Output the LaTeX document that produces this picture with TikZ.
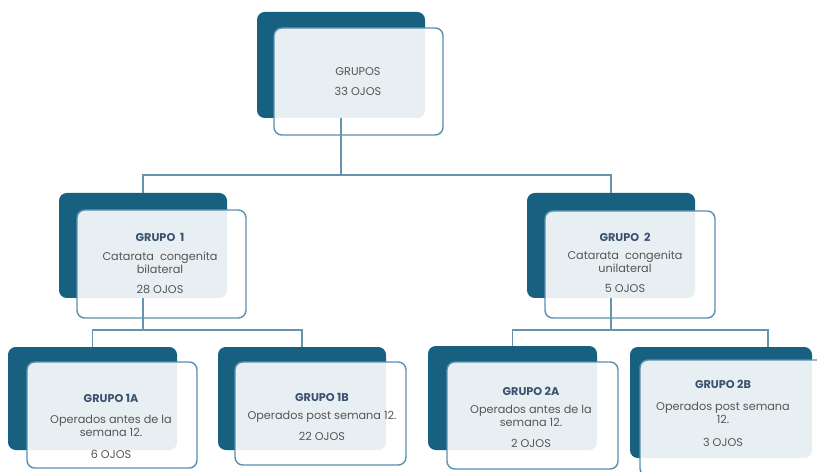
\documentclass[tikz,border=0pt]{standalone}
\usepackage{fontspec}
\setmainfont{Poppins}
\usetikzlibrary{fit,positioning}
\definecolor{azulosc}{HTML}{17607F}
\definecolor{azulbor}{HTML}{5A8FAE}
\definecolor{azullin}{HTML}{6793AD}
\definecolor{textogris}{HTML}{555555}
\definecolor{titazul}{HTML}{3A5270}

\begin{document}
\begin{tikzpicture}[x=0.025cm,y=-0.025cm,
  fondo/.style={fill=azulosc, rounded corners=5.5pt, inner sep=0pt},
  frente/.style={draw=azulbor, line width=1pt, fill=white, fill opacity=0.9, rounded corners=5.5pt, inner sep=0pt},
  titulo/.style={font=\fontsize{8}{9.3}\selectfont\bfseries, text=titazul, inner sep=0pt},
  texto/.style={font=\fontsize{8}{9.3}\selectfont, text=textogris, align=center, inner sep=0pt},
  linea/.style={draw=azullin, line width=0.8pt}]

            % Fondo y margenes
            \fill[white] (0,0) rectangle (817,472);
            \useasboundingbox (0,0) rectangle (817,472);

            % Caja GRUPOS
            \node[fondo, fit={(257,12) (425,118)}] (b0) {};
            \node[frente, fit={(274,28) (443,135)}] (g0) {};
            \node[texto] (t0) at (358,72) {GRUPOS};
            \node[texto] (n0) at (358,91) {33 OJOS};

            % Caja GRUPO 1
            \node[fondo, fit={(59,193) (227,298)}] (b1) {};
            \node[frente, fit={(77,210) (246,318)}] (g1) {};
            \node[titulo] (t1) at (160,237) {GRUPO\ \ 1};
            \node[texto] (d1) at (160,263) {Catarata\ \ congenita\\bilateral};
            \node[texto] (n1) at (160,289) {28 OJOS};

            % Caja GRUPO 2
            \node[fondo, fit={(527,193) (695,298)}] (b2) {};
            \node[frente, fit={(545,211) (715,318)}] (g2) {};
            \node[titulo] (t2) at (625,237) {GRUPO\ \ 2};
            \node[texto] (d2) at (625,262) {Catarata\ \ congenita\\unilateral};
            \node[texto] (n2) at (625,288) {5 OJOS};

            % Caja GRUPO 1A
            \node[fondo, fit={(8,347) (177,450)}] (b1a) {};
            \node[frente, fit={(27,362) (197,468)}] (g1a) {};
            \node[titulo] (t1a) at (111,398) {GRUPO 1A};
            \node[texto] (d1a) at (111,426) {Operados antes de la\\semana 12.};
            \node[texto] (n1a) at (111,454) {6 OJOS};

            % Caja GRUPO 1B
            \node[fondo, fit={(218,347) (386,450)}] (b1b) {};
            \node[frente, fit={(235,362) (406,465)}] (g1b) {};
            \node[titulo] (t1b) at (322,397) {GRUPO 1B};
            \node[texto] (d1b) at (322,417) {Operados post semana 12.};
            \node[texto] (n1b) at (322,436) {22 OJOS};

            % Caja GRUPO 2A
            \node[fondo, fit={(428,346) (597,450)}] (b2a) {};
            \node[frente, fit={(447,362) (618,469)}] (g2a) {};
            \node[titulo] (t2a) at (531,391) {GRUPO 2A};
            \node[texto] (d2a) at (531,416) {Operados antes de la\\semana 12.};
            \node[texto] (n2a) at (531,443) {2 OJOS};

            % Caja GRUPO 2B
            \node[fondo, fit={(630,347) (812,458)}] (b2b) {};
            \node[frente, fit={(640,360) (830,476)}] (g2b) {};
            \node[titulo] (t2b) at (723,384) {GRUPO 2B};
            \node[texto] (d2b) at (723,413) {Operados post semana\\12.};
            \node[texto] (n2b) at (723,442) {3 OJOS};

            % Conectores
            \coordinate (j0) at (341,175);
            \coordinate (j1) at (143,330);
            \coordinate (j2) at (611,330);
            \coordinate (e2b) at (768,347);
            \draw[linea] (b0.south) -- (b0.south |- j0) -| (b1.north);
            \draw[linea] (b0.south |- j0) -| (b2.north);
            \draw[linea] (b1.south) -- (b1.south |- j1) -| (b1a.north);
            \draw[linea] (b1.south |- j1) -| (b1b.north);
            \draw[linea] (b2.south) -- (b2.south |- j2) -| (b2a.north);
            \draw[linea] (b2.south |- j2) -| (e2b);

            \end{tikzpicture}
\end{document}
